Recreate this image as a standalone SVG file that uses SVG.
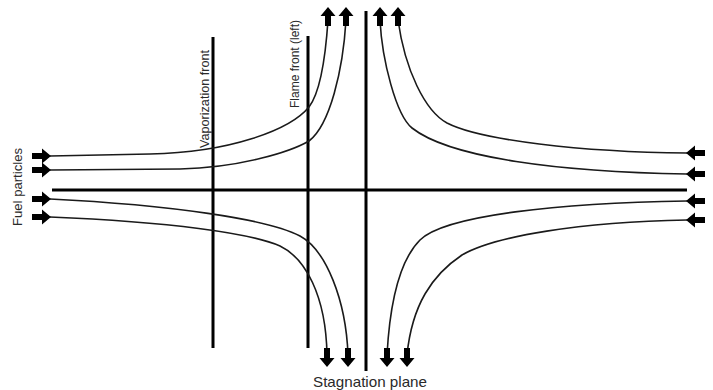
<svg xmlns="http://www.w3.org/2000/svg" width="713" height="390" viewBox="0 0 713 390">
<style>
.stream{fill:none;stroke:#1a1a1a;stroke-width:1.6}
.bar{stroke:#000;stroke-width:3;fill:none}
.lbl{font-family:"Liberation Sans",Arial,sans-serif;fill:#2a2a2a}
.arr{fill:#000}
</style>
<defs>
<polygon id="ar" class="arr" points="0,0 -9,-7.5 -9,-3 -19,-3 -19,3 -9,3 -9,7.5"/>
</defs>
<rect width="713" height="390" fill="#fff"/>
<g id="axes">
<line class="bar" x1="52" y1="190" x2="687" y2="190"/>
<line class="bar" x1="366" y1="11" x2="366" y2="371"/>
</g>
<g id="vaporization-front">
<line class="bar" x1="213" y1="37" x2="213" y2="348"/>
<text class="lbl" font-size="12.5" transform="translate(209,148) rotate(-90)" textLength="98" lengthAdjust="spacingAndGlyphs">Vaporization front</text>
</g>
<g id="flame-front-left">
<line class="bar" x1="308" y1="36" x2="308" y2="348"/>
<text class="lbl" font-size="12" transform="translate(299,108) rotate(-90)" textLength="88" lengthAdjust="spacingAndGlyphs">Flame front (left)</text>
</g>
<g id="fuel-label">
<text class="lbl" font-size="13" transform="translate(22,226) rotate(-90)" textLength="78" lengthAdjust="spacingAndGlyphs">Fuel particles</text>
</g>
<g id="stagnation-label">
<text class="lbl" font-size="14.5" x="313" y="387" textLength="114" lengthAdjust="spacingAndGlyphs">Stagnation plane</text>
</g>
<g id="connectors">
<path class="stream" d="M50,156 L150,154 C230,152.4 290,130 309,107 C322,90 326,50 328,20"/>
<path class="stream" d="M50,170 L180,169 C240,167.5 290,152 309,141 C330,125 343,70 346,20"/>
<path class="stream" d="M50,199 C170,205 268,219 300,236 C326,250 346,300 348,355"/>
<path class="stream" d="M50,217 C170,222 250,233 280,246 C305,258 326,295 327,355"/>
<path class="stream" d="M687,174 C560,172 450,158 412,128 C396,115 382,60 380,20"/>
<path class="stream" d="M687,153 C580,152 480,140 447,123 C425,111 405,70 398,20"/>
<path class="stream" d="M687,201 C560,203 445,215 420,240 C400,260 390,300 387,355"/>
<path class="stream" d="M687,220 C580,222 495,236 462,255 C432,275 412,305 407,355"/>
</g>
<g id="arrows">
<use href="#ar" transform="translate(51,156)"/>
<use href="#ar" transform="translate(51,170)"/>
<use href="#ar" transform="translate(51,199)"/>
<use href="#ar" transform="translate(51,217)"/>
<use href="#ar" transform="translate(686,153) rotate(180)"/>
<use href="#ar" transform="translate(686,174) rotate(180)"/>
<use href="#ar" transform="translate(686,201) rotate(180)"/>
<use href="#ar" transform="translate(686,220) rotate(180)"/>
<use href="#ar" transform="translate(328,7) rotate(-90)"/>
<use href="#ar" transform="translate(346,7) rotate(-90)"/>
<use href="#ar" transform="translate(380,7) rotate(-90)"/>
<use href="#ar" transform="translate(398,7) rotate(-90)"/>
<use href="#ar" transform="translate(327,367) rotate(90)"/>
<use href="#ar" transform="translate(348,367) rotate(90)"/>
<use href="#ar" transform="translate(387,367) rotate(90)"/>
<use href="#ar" transform="translate(407,367) rotate(90)"/>
</g>
</svg>
